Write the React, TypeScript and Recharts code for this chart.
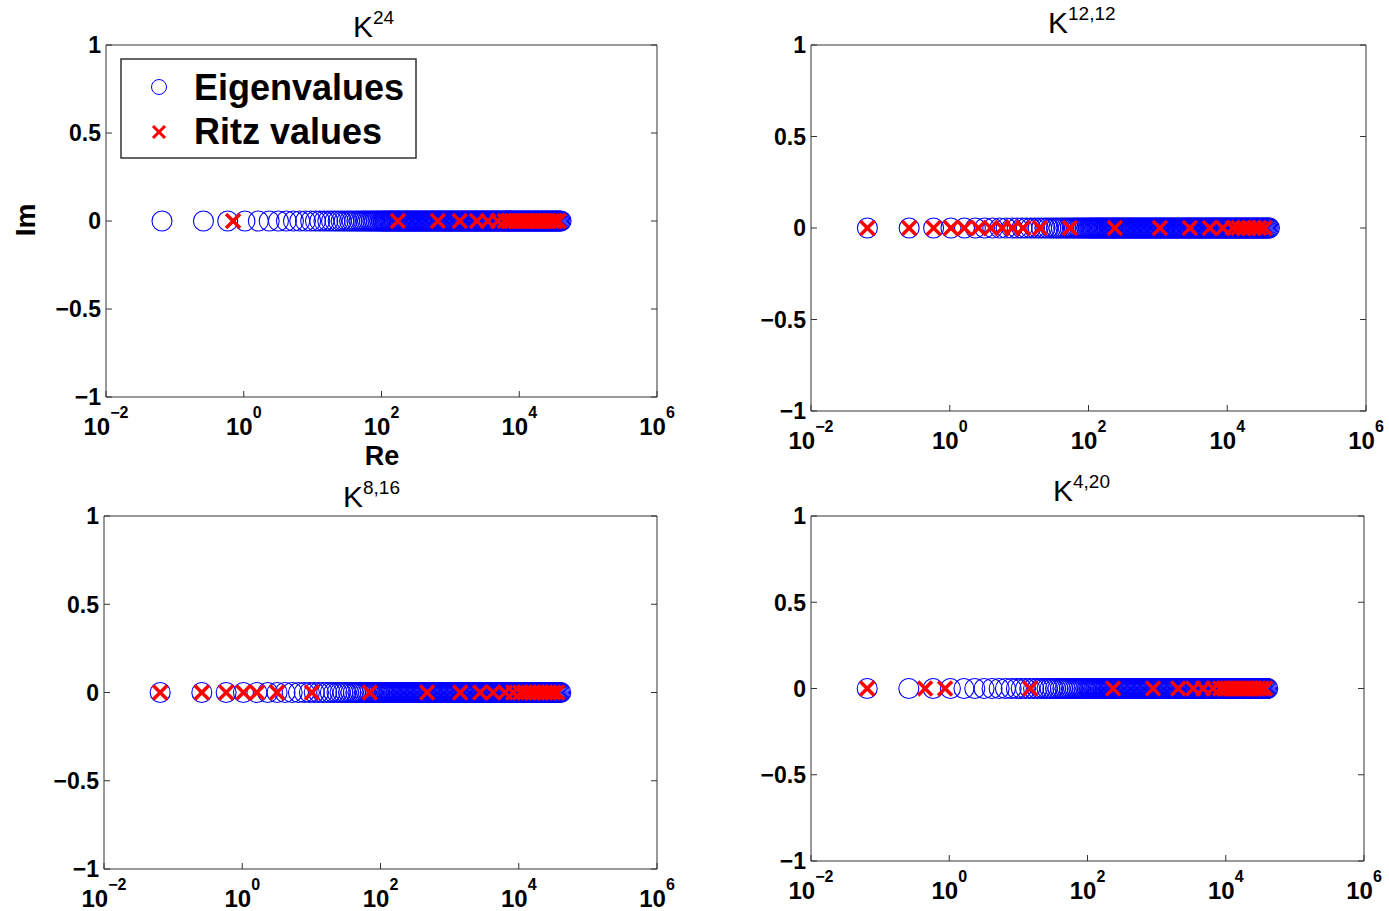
import { ScatterChart, Scatter, XAxis, YAxis } from 'recharts'

const PAGE_W = 1389
const PAGE_H = 911
const FONT = '"Liberation Sans", Arial, Helvetica, sans-serif'
const AXIS_COLOR = '#333333'
const TICK_LEN = 6

const X_TICKS = [0.01, 1, 100, 10000, 1000000]
const Y_TICKS = [-1, -0.5, 0, 0.5, 1]

// eigenvalues (same spectrum in every panel), read off the circles;
// the band above ~1e2 is solid in the picture, so it is sampled densely
const EIGENVALUES = [
  0.065, 0.26, 0.585, 1.04, 1.63, 2.34, 3.19, 4.16, 5.27, 6.5,
  7.87, 9.36, 11.0, 12.7, 14.6, 16.6, 18.8, 21.1, 23.5, 26.0,
  28.7, 31.5, 34.4, 37.4, 40.6, 43.9, 47.4, 51.0, 54.7, 58.5,
  62.5, 66.6, 70.8, 75.1, 79.6, 84.2, 89.0, 93.9, 98.9,
  104, 108, 112, 117, 122, 127, 132, 137, 142, 148,
  154, 160, 167, 173, 180, 187, 195, 203, 211, 219,
  228, 237, 246, 256, 267, 277, 288, 300, 312, 324,
  337, 351, 365, 380, 395, 410, 427, 444, 462, 480,
  499, 519, 540, 562, 584, 607, 632, 657, 683, 711,
  739, 769, 799, 831, 865, 899, 935, 973, 1010, 1050,
  1090, 1140, 1180, 1230, 1280, 1330, 1390, 1440, 1500, 1560,
  1620, 1690, 1750, 1820, 1900, 1970, 2050, 2130, 2220, 2310,
  2400, 2500, 2600, 2700, 2810, 2920, 3040, 3160, 3290, 3420,
  3550, 3700, 3840, 4000, 4160, 4320, 4500, 4680, 4860, 5060,
  5260, 5470, 5690, 5920, 6150, 6400, 6660, 6920, 7200, 7490,
  7790, 8100, 8420, 8760, 9110, 9470, 9850, 10200, 10700, 11100,
  11500, 12000, 12500, 13000, 13500, 14000, 14600, 15200, 15800, 16400,
  17100, 17800, 18500, 19200, 20000, 20800, 21600, 22500, 23400, 24300,
  25300, 26300, 27400, 28500, 29600, 30800, 32000, 33300, 34600, 36000,
  37500, 39000, 40500
]

// Ritz values, 24 per panel
const RITZ_K24 = [
  0.70, 173, 659, 1370, 2430, 3500, 4890,
  6170, 6920, 7760, 8710, 9770, 11000, 12300, 13500, 15100,
  17000, 19100, 21400, 24000, 26900, 30200, 33100, 37200
]
const RITZ_K12_12 = [
  0.065, 0.26, 0.585, 1.04, 1.63, 2.6, 3.9, 5.7, 8.0, 11.4, 20, 54,
  240, 1070, 2890, 5610, 8650, 12050, 14500, 17400, 20400, 24500, 28800, 34700
]
const RITZ_K8_16 = [
  0.065, 0.26, 0.585, 1.04, 1.63, 3.19, 10.2, 70,
  472, 1420, 2760, 4260, 6350, 8300, 10500, 12000,
  13800, 15800, 18200, 20900, 24000, 27500, 31600, 36000
]
const RITZ_K4_20 = [
  0.065, 0.447, 0.87, 14.8,
  235, 889, 2050, 3380, 4710, 6570, 8300, 9330, 10500, 11700,
  13200, 14800, 16600, 18600, 20900, 23400, 26300, 29500, 33100, 37200
]

const PANELS = [
  { key: 'k24', sup: '24', ritz: RITZ_K24, left: 106, right: 657, top: 45, bottom: 397, titleX: 353, titleY: 37 },
  { key: 'k12', sup: '12,12', ritz: RITZ_K12_12, left: 811, right: 1366, top: 45, bottom: 411, titleX: 1048, titleY: 33 },
  { key: 'k8', sup: '8,16', ritz: RITZ_K8_16, left: 104, right: 657, top: 516, bottom: 869, titleX: 343, titleY: 507 },
  { key: 'k4', sup: '4,20', ritz: RITZ_K4_20, left: 811, right: 1364, top: 516, bottom: 861, titleX: 1053, titleY: 501 }
]

type PanelDef = (typeof PANELS)[number]

const eigenData = EIGENVALUES.map((v) => ({ re: v, im: 0 }))

const fmtMinus = (v: number) => (v < 0 ? '\u2212' + Math.abs(v) : String(v))

// MATLAB-style ticks point inwards, so the tick line is drawn here
const makeBottomTick = (p: PanelDef) => ({ x, payload }: any) => {
  const exp = Math.round(Math.log10(payload.value))
  return (
    <g>
      <line x1={x} y1={p.bottom} x2={x} y2={p.bottom - TICK_LEN} stroke={AXIS_COLOR} />
      <text x={x} y={p.bottom + 38} textAnchor="middle" fontFamily={FONT} fontWeight="bold" fontSize={24} fill="#000">
        10
        <tspan dy={-17} fontSize={16}>{fmtMinus(exp)}</tspan>
      </text>
    </g>
  )
}

const makeTopTick = (p: PanelDef) => ({ x }: any) => (
  <line x1={x} y1={p.top} x2={x} y2={p.top + TICK_LEN} stroke={AXIS_COLOR} />
)

const makeLeftTick = (p: PanelDef) => ({ y, payload }: any) => (
  <g>
    <line x1={p.left} y1={y} x2={p.left + TICK_LEN} y2={y} stroke={AXIS_COLOR} />
    <text x={p.left - 5} y={y} dy="0.36em" textAnchor="end" fontFamily={FONT} fontWeight="bold" fontSize={23} fill="#000">
      {fmtMinus(payload.value)}
    </text>
  </g>
)

const makeRightTick = (p: PanelDef) => ({ y }: any) => (
  <line x1={p.right} y1={y} x2={p.right - TICK_LEN} y2={y} stroke={AXIS_COLOR} />
)

const EigenShape = ({ cx, cy }: any) => (
  <circle cx={cx} cy={cy} r={10} fill="none" stroke="#0000ff" strokeWidth={1.1} />
)

const RitzShape = ({ cx, cy }: any) => (
  <g stroke="#ff0000" strokeWidth={3.5}>
    <line x1={cx - 7} y1={cy - 7} x2={cx + 7} y2={cy + 7} />
    <line x1={cx - 7} y1={cy + 7} x2={cx + 7} y2={cy - 7} />
  </g>
)

const Panel = ({ p }: { p: PanelDef }) => {
  const ritzData = p.ritz.map((v) => ({ re: v, im: 0 }))
  const BottomTick = makeBottomTick(p)
  const TopTick = makeTopTick(p)
  const LeftTick = makeLeftTick(p)
  const RightTick = makeRightTick(p)
  return (
    <div style={{ position: 'absolute', left: 0, top: 0 }}>
      <ScatterChart
        width={PAGE_W}
        height={PAGE_H}
        margin={{ top: p.top - 10, right: PAGE_W - p.right - 10, bottom: PAGE_H - p.bottom - 50, left: p.left - 60 }}
      >
        <XAxis
          xAxisId="b"
          dataKey="re"
          type="number"
          scale="log"
          domain={[0.01, 1000000]}
          allowDataOverflow
          ticks={X_TICKS}
          interval={0}
          orientation="bottom"
          height={50}
          stroke={AXIS_COLOR}
          tickLine={false}
          tick={<BottomTick />}
        />
        <XAxis
          xAxisId="t"
          type="number"
          scale="log"
          domain={[0.01, 1000000]}
          allowDataOverflow
          ticks={X_TICKS}
          interval={0}
          orientation="top"
          height={10}
          stroke={AXIS_COLOR}
          tickLine={false}
          tick={<TopTick />}
        />
        <YAxis
          yAxisId="l"
          dataKey="im"
          type="number"
          domain={[-1, 1]}
          allowDataOverflow
          ticks={Y_TICKS}
          interval={0}
          width={60}
          stroke={AXIS_COLOR}
          tickLine={false}
          tick={<LeftTick />}
        />
        <YAxis
          yAxisId="r"
          type="number"
          domain={[-1, 1]}
          allowDataOverflow
          ticks={Y_TICKS}
          interval={0}
          orientation="right"
          width={10}
          stroke={AXIS_COLOR}
          tickLine={false}
          tick={<RightTick />}
        />
        <Scatter xAxisId="b" yAxisId="l" data={eigenData} shape={EigenShape} isAnimationActive={false} />
        <Scatter xAxisId="b" yAxisId="l" data={ritzData} shape={RitzShape} isAnimationActive={false} />
      </ScatterChart>
    </div>
  )
}

export default function App() {
  return (
    <div style={{ position: 'absolute', left: 0, top: 0, width: PAGE_W, height: PAGE_H, background: '#fff' }}>
      {PANELS.map((p) => (
        <Panel key={p.key} p={p} />
      ))}
      <svg width={PAGE_W} height={PAGE_H} style={{ position: 'absolute', left: 0, top: 0, pointerEvents: 'none' }}>
        {PANELS.map((p) => (
          <text key={p.key} x={p.titleX} y={p.titleY} fontFamily={FONT} fontSize={30} fill="#000">
            K
            <tspan dy={-13} fontSize={19}>{p.sup}</tspan>
          </text>
        ))}
        <text x={382} y={465} textAnchor="middle" fontFamily={FONT} fontWeight="bold" fontSize={27} fill="#000">
          Re
        </text>
        <text transform="translate(35,220) rotate(-90)" textAnchor="middle" fontFamily={FONT} fontWeight="bold" fontSize={28} fill="#000">
          Im
        </text>
        <g>
          <rect x={121} y={59} width={295} height={99} fill="#fff" stroke={AXIS_COLOR} strokeWidth={1.5} />
          <circle cx={159} cy={87} r={7.5} fill="none" stroke="#0000ff" strokeWidth={1} />
          <g stroke="#ff0000" strokeWidth={3}>
            <line x1={153} y1={126} x2={165} y2={138} />
            <line x1={153} y1={138} x2={165} y2={126} />
          </g>
          <text x={194} y={100} fontFamily={FONT} fontWeight="bold" fontSize={36} fill="#000">
            Eigenvalues
          </text>
          <text x={194} y={144} fontFamily={FONT} fontWeight="bold" fontSize={36} fill="#000">
            Ritz values
          </text>
        </g>
      </svg>
    </div>
  )
}
